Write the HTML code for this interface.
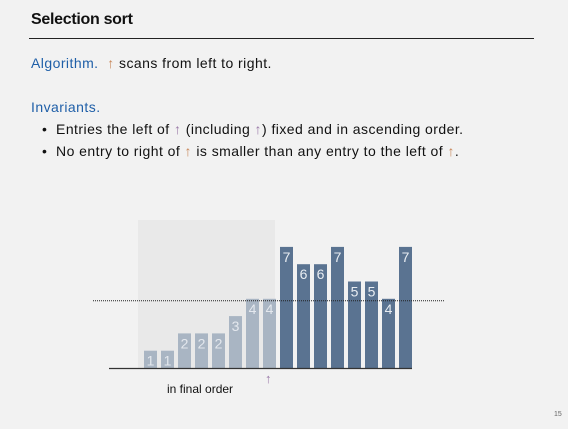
<!DOCTYPE html>
<html><head><meta charset="utf-8"><style>
body{margin:0;width:568px;height:429px;background:#f2f2f2;font-family:"Liberation Sans",sans-serif;position:relative;overflow:hidden}
.t{position:absolute;white-space:nowrap;color:#111}
.m{font-size:14px;letter-spacing:0.45px}
.b{color:#1f5fa8}
.ar{color:#c8875a;font-weight:bold}
.ap{color:#9a7aa8;font-weight:bold}
</style></head><body>
<div class="t" style="left:31px;top:11px;font-size:16px;font-weight:bold;letter-spacing:-0.3px">Selection sort</div>
<div style="position:absolute;left:29px;top:38px;width:505px;height:1px;background:#222"></div>
<div class="t m" style="left:31px;top:55px"><span class="b">Algorithm.</span>&nbsp; <span class="ar">↑</span> scans from left to right.</div>
<div class="t b m" style="left:31px;top:99px">Invariants.</div>
<div class="t m" style="left:42px;top:121px">•&nbsp; Entries the left of <span class="ap">↑</span> (including <span class="ap">↑</span>) fixed and in ascending order.</div>
<div class="t m" style="left:42px;top:143px">•&nbsp; No entry to right of <span class="ar">↑</span> is smaller than any entry to the left of <span class="ar">↑</span>.</div>
<svg id="c" width="568" height="429" style="position:absolute;left:0;top:0">
<rect x="138" y="220" width="137" height="148" fill="#e9e9e9"/>
</svg>
<div class="t" style="left:167px;top:382px;font-size:12px">in final order</div>
<div class="t ap" style="left:265px;top:371px;font-size:13px">↑</div>
<div class="t" style="left:554px;top:411px;font-size:7px;color:#666">15</div>
<script>
const values=[1,1,2,2,2,3,4,4,7,6,6,7,5,5,4,7];
const fixedCount=8;
const pivot=4;
const svg=document.getElementById('c');
const NS='http://www.w3.org/2000/svg';
const base=368,unit=17.3,x0=144,step=17,w=13;
const xs=i=>x0+i*step, ys=v=>base-v*unit;
values.forEach((v,i)=>{
 const r=document.createElementNS(NS,'rect');
 
 
 r.setAttribute('x',xs(i));r.setAttribute('y',ys(v));r.setAttribute('width',w);r.setAttribute('height',v*unit);
 r.setAttribute('fill',i<fixedCount?'#a9b5c3':'#5a7391');
 svg.appendChild(r);
 const t=document.createElementNS(NS,'text');
 
 
 t.setAttribute('x',xs(i)+w/2);t.setAttribute('y',ys(v)+15);
 t.setAttribute('text-anchor','middle');t.setAttribute('font-size','14');
 t.setAttribute('font-family','Liberation Sans, sans-serif');
 t.setAttribute('fill',i<fixedCount?'#e4e8ee':'#e8edf2');
 t.textContent=v;
 svg.appendChild(t);
});
const bl=document.createElementNS(NS,'line');


bl.setAttribute('x1',109);bl.setAttribute('x2',412);bl.setAttribute('y1',base+0.5);bl.setAttribute('y2',base+0.5);
bl.setAttribute('stroke','#333');bl.setAttribute('stroke-width','1.2');
svg.appendChild(bl);
const dl=document.createElementNS(NS,'line');


dl.setAttribute('x1',93);dl.setAttribute('x2',445);dl.setAttribute('y1',ys(pivot)+2);dl.setAttribute('y2',ys(pivot)+2);
dl.setAttribute('stroke','#222');dl.setAttribute('stroke-dasharray','1 1');
svg.appendChild(dl);
</script>
</body></html>
